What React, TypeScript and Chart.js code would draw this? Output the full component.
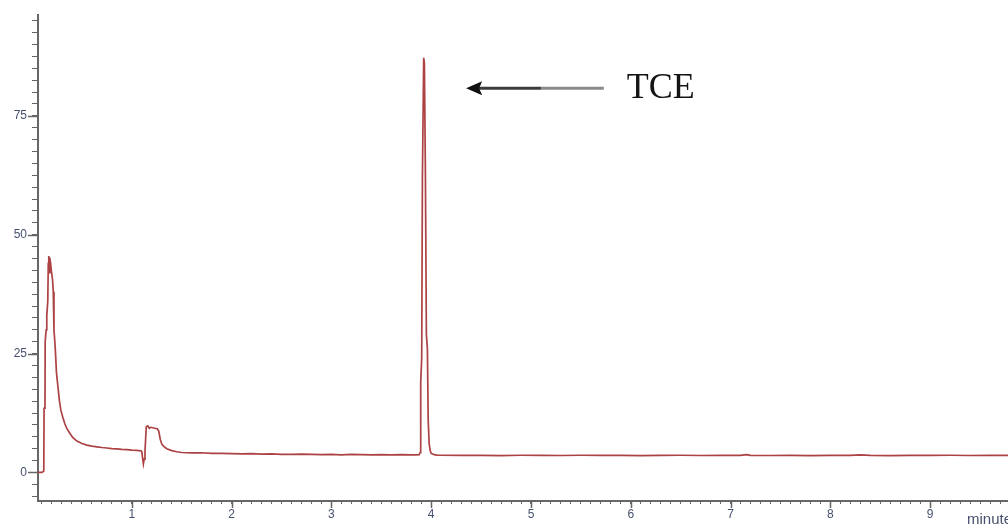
import React, { useEffect, useRef } from "react";
import { Chart, registerables } from "chart.js";

Chart.register(...registerables);

// ---------- data (retention time in minutes, detector signal) ----------
const solventTime = [
  0.06, 0.1, 0.118, 0.121, 0.13, 0.132, 0.142, 0.148, 0.158, 0.163, 0.168, 0.173, 0.178,
  0.186, 0.196, 0.206, 0.213, 0.22, 0.232, 0.245, 0.26, 0.275, 0.29, 0.31, 0.33, 0.35,
  0.38, 0.41, 0.45, 0.5, 0.55, 0.6, 0.65, 0.7, 0.75, 0.8, 0.85, 0.9, 0.95, 1.0, 1.05, 1.09,
];
const solventSignal = [
  0, 0, 0.3, 13.5, 14, 27.5, 30, 33, 36, 44, 45.5, 42, 45.2,
  44, 42, 40.5, 38, 30, 26.5, 21, 18, 15, 13, 11.5, 10.2, 9.2,
  8.2, 7.3, 6.6, 6.1, 5.75, 5.55, 5.4, 5.25, 5.15, 5.0, 4.95, 4.85, 4.8, 4.7, 4.65, 4.55,
];

const disturbTime = [
  1.1, 1.108, 1.116, 1.124, 1.132, 1.145, 1.16, 1.175, 1.19, 1.21, 1.23, 1.255, 1.27,
  1.285, 1.3, 1.32, 1.35, 1.4, 1.45,
];
const disturbSignal = [
  4.4, 3.0, 1.8, 2.8, 4.4, 9.6, 9.8, 9.3, 9.5, 9.4, 9.3, 9.2, 8.7,
  7.0, 6.0, 5.5, 5.0, 4.6, 4.35,
];

const baselineATime = [
  1.5, 1.6, 1.7, 1.8, 1.9, 2.0, 2.1, 2.2, 2.3, 2.4, 2.5, 2.6, 2.7, 2.8, 2.9, 3.0,
  3.1, 3.2, 3.3, 3.4, 3.5, 3.6, 3.7, 3.8, 3.85, 3.88,
];
const baselineASignal = [
  4.2, 4.1, 4.15, 4.0, 4.0, 3.95, 3.9, 3.95, 3.85, 3.9, 3.8, 3.8, 3.85, 3.8, 3.75, 3.8,
  3.72, 3.8, 3.75, 3.7, 3.75, 3.7, 3.75, 3.7, 3.72, 3.75,
];

const tceTime = [
  3.89, 3.895, 3.905, 3.912, 3.925, 3.932, 3.942, 3.952, 3.962, 3.97, 3.98, 3.99, 4.0,
  4.03, 4.06,
];
const tceSignal = [
  4.2, 19, 24, 62, 87.2, 86, 63, 29, 26, 11, 6, 4.6, 4.0,
  3.75, 3.65,
];

const baselineBTime = [
  4.1, 4.3, 4.5, 4.7, 4.9, 5.1, 5.3, 5.5, 5.7, 5.9, 6.1, 6.3, 6.5, 6.7, 6.9, 7.1,
  7.16, 7.2, 7.4, 7.6, 7.8, 8.0, 8.2, 8.3, 8.4, 8.6, 8.8, 9.0, 9.2, 9.4, 9.6, 9.8,
];
const baselineBSignal = [
  3.62, 3.58, 3.6, 3.55, 3.62, 3.6, 3.57, 3.62, 3.58, 3.6, 3.55, 3.6, 3.62, 3.57, 3.6, 3.58,
  3.75, 3.6, 3.57, 3.6, 3.55, 3.6, 3.58, 3.68, 3.6, 3.56, 3.6, 3.58, 3.62, 3.57, 3.6, 3.58,
];

const xMajorTicks = [1, 2, 3, 4, 5, 6, 7, 8, 9];
const yMajorTicks = [0, 25, 50, 75];
const xAxisTitle = "minutes";
const peakLabel = "TCE";

// annotation anchor (data units)
const arrowTipX = 4.35;
const arrowMidX = 5.1;
const arrowTailX = 5.73;
const arrowY = 80.8;
const labelX = 5.96;
const labelBaselineY = 78.8;

const AXIS_COLOR = "#666666";
const LABEL_COLOR = "#46516e";
const LINE_COLOR = "#ad4244";
const TICK_FONT = "'Liberation Sans', Arial, sans-serif";

const segments = [
  [solventTime, solventSignal],
  [disturbTime, disturbSignal],
  [baselineATime, baselineASignal],
  [tceTime, tceSignal],
  [baselineBTime, baselineBSignal],
];

const points = segments.flatMap(([t, s]) => t.map((x, i) => ({ x, y: s[i] })));

const near = (v: number, list: number[]) => list.find((m) => Math.abs(m - v) < 1e-6);

const overlayPlugin = {
  id: "overlay",
  afterDraw(chart: any) {
    const { ctx, chartArea } = chart;
    const xs = chart.scales.x;
    const ys = chart.scales.y;
    ctx.save();
    // major ticks
    ctx.strokeStyle = AXIS_COLOR;
    ctx.lineWidth = 1.5;
    for (const v of xMajorTicks) {
      const px = Math.round(xs.getPixelForValue(v)) + 0.5;
      ctx.beginPath();
      ctx.moveTo(px, chartArea.bottom);
      ctx.lineTo(px, chartArea.bottom + 7);
      ctx.stroke();
    }
    for (const v of yMajorTicks) {
      const py = Math.round(ys.getPixelForValue(v)) + 0.5;
      ctx.beginPath();
      ctx.moveTo(chartArea.left - 10, py);
      ctx.lineTo(chartArea.left, py);
      ctx.stroke();
    }
    // axis unit (runs off the right edge, as in the original)
    ctx.fillStyle = LABEL_COLOR;
    ctx.font = `15px ${TICK_FONT}`;
    ctx.textBaseline = "middle";
    ctx.textAlign = "left";
    ctx.fillText(xAxisTitle, chartArea.right - 41, chartArea.bottom + 19);

    // arrow
    const ay = ys.getPixelForValue(arrowY);
    const x0 = xs.getPixelForValue(arrowTipX);
    const x1 = xs.getPixelForValue(arrowMidX);
    const x2 = xs.getPixelForValue(arrowTailX);
    ctx.lineWidth = 3;
    ctx.strokeStyle = "#3c3c3c";
    ctx.beginPath();
    ctx.moveTo(x0 + 12, ay);
    ctx.lineTo(x1, ay);
    ctx.stroke();
    ctx.strokeStyle = "#8a8a8a";
    ctx.beginPath();
    ctx.moveTo(x1, ay);
    ctx.lineTo(x2, ay);
    ctx.stroke();
    ctx.fillStyle = "#111";
    ctx.beginPath();
    ctx.moveTo(x0, ay);
    ctx.lineTo(x0 + 16, ay - 7);
    ctx.lineTo(x0 + 13, ay);
    ctx.lineTo(x0 + 16, ay + 7);
    ctx.closePath();
    ctx.fill();

    // peak label
    ctx.fillStyle = "#141414";
    ctx.font = "36px 'Liberation Serif', 'Times New Roman', serif";
    ctx.textBaseline = "alphabetic";
    ctx.textAlign = "left";
    ctx.fillText(peakLabel, xs.getPixelForValue(labelX), ys.getPixelForValue(labelBaselineY));
    ctx.restore();
  },
};

export default function App() {
  const canvasRef = useRef<HTMLCanvasElement | null>(null);

  useEffect(() => {
    const canvas = canvasRef.current;
    if (!canvas) return;
    const chart = new Chart(canvas, {
      type: "line",
      data: {
        datasets: [
          {
            data: points,
            borderColor: LINE_COLOR,
            borderWidth: 1.7,
            pointRadius: 0,
            tension: 0,
            fill: false,
          },
        ],
      },
      options: {
        animation: false,
        responsive: false,
        devicePixelRatio: 1,
        parsing: false,
        layout: { padding: { top: 15, left: 0, right: 0, bottom: 0 } },
        plugins: { legend: { display: false }, tooltip: { enabled: false }, title: { display: false } },
        scales: {
          x: {
            type: "linear",
            position: "bottom",
            min: 0.06,
            max: 9.78,
            border: { display: true, color: AXIS_COLOR, width: 2 },
            grid: { display: true, drawOnChartArea: false, drawTicks: true, tickLength: 3, color: AXIS_COLOR, lineWidth: 1 },
            ticks: {
              stepSize: 0.1,
              autoSkip: false,
              includeBounds: false,
              maxRotation: 0,
              padding: 3,
              color: LABEL_COLOR,
              font: { family: TICK_FONT, size: 12 },
              callback: (v: any) => {
                const m = near(Number(v), xMajorTicks);
                return m !== undefined ? String(m) : "";
              },
            },
            afterFit: (scale: any) => {
              scale.height = 26;
            },
          },
          y: {
            type: "linear",
            position: "left",
            min: -6,
            max: 96.2,
            border: { display: true, color: AXIS_COLOR, width: 2 },
            grid: { display: true, drawOnChartArea: false, drawTicks: true, tickLength: 6, color: AXIS_COLOR, lineWidth: 1 },
            ticks: {
              stepSize: 2.5,
              autoSkip: false,
              includeBounds: false,
              padding: 5,
              color: LABEL_COLOR,
              font: { family: TICK_FONT, size: 12 },
              callback: (v: any) => {
                const m = near(Number(v), yMajorTicks);
                return m !== undefined ? String(m) : "";
              },
            },
            afterFit: (scale: any) => {
              scale.width = 38;
            },
          },
        },
      },
      plugins: [overlayPlugin],
    });
    return () => chart.destroy();
  }, []);

  return (
    <div style={{ position: "absolute", left: 0, top: 0, width: 1008, height: 527, background: "#fff" }}>
      <canvas ref={canvasRef} width={1008} height={527} style={{ display: "block", width: 1008, height: 527 }} />
    </div>
  );
}
